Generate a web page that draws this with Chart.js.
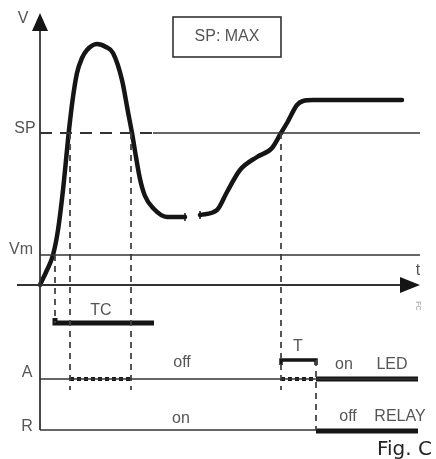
<!DOCTYPE html>
<html><head><meta charset="utf-8">
<script src="https://cdn.jsdelivr.net/npm/chart.js@4"></script>
<style>html,body{margin:0;padding:0;background:#fff}canvas{display:block}</style>
</head><body>
<canvas id="c" width="436" height="459"></canvas>
<script>
// Process value V over time t (break in the curve marked by null)
const curveT = [0, 7, 13, 18, 23, 27, 29, 33, 37, 42, 47, 57, 66, 73, 82, 88, 92, 96, 100, 105, 113, 127, 145, null, 160, 177, 187, 200, 217, 232, 241, 247, 257, 263, 273, 362];
const curveV = [0, 15, 30, 55, 95, 135, 155, 188, 212, 227, 235, 241, 238, 232, 205, 173, 152, 128, 106, 89, 77, 68, 68, null, 70, 75, 93, 115, 128, 137, 152, 162, 180, 184, 185, 185];
// Levels
const SP = 152, VM = 30;
const LEVEL_A = -94, LEVEL_R = -145, TC_LEVEL = -38, T_LEVEL = -75;
const T_AXIS_END = 380;
// Event times
const tVm = 15, tSP1 = 30, tSP2 = 91, tSP3 = 241, tRelay = 276, tTCend = 114, tEnd = 378;
// Texts
const axisLabels = ['V', 'SP', 'Vm', 't', 'A', 'R'];
const stateLabels = ['TC', 'off', 'on', 'T', 'on', 'LED', 'off', 'RELAY'];
const boxLabel = 'SP: MAX';
const figLabel = 'Fig. C';
const tinyLabel = 'FC';

const DARK = '#333', INK = '#151515', TXT = '#555';
function seg(pts, o) {
  return Object.assign({data: pts, showLine: true, pointRadius: 0, borderColor: DARK, borderWidth: 1.5, fill: false, tension: 0}, o || {});
}
const P = (x, y) => ({x, y});
const dashV = [6, 5];
const datasets = [
  seg([P(0, LEVEL_R), P(0, 258)], {borderWidth: 1.8}),
  seg([P(-23, 0), P(365, 0)], {borderWidth: 2}),
  seg([P(0, SP), P(113, SP)], {borderDash: [12, 8], borderWidth: 2}),
  seg([P(113, SP), P(T_AXIS_END, SP)], {borderWidth: 1.6}),
  seg([P(0, VM), P(T_AXIS_END, VM)], {borderWidth: 1.6}),
  seg([P(0, LEVEL_A), P(tEnd, LEVEL_A)], {borderWidth: 1.6}),
  seg([P(0, LEVEL_R), P(tRelay, LEVEL_R)], {borderWidth: 1.6}),
  seg([P(tVm, VM), P(tVm, TC_LEVEL)], {borderDash: dashV, borderWidth: 1.8, borderColor: '#444'}),
  seg([P(tSP1, SP), P(tSP1, -105)], {borderDash: dashV, borderWidth: 1.8, borderColor: '#444'}),
  seg([P(tSP2, SP), P(tSP2, -105)], {borderDash: dashV, borderWidth: 1.8, borderColor: '#444'}),
  seg([P(tSP3, SP), P(tSP3, -105)], {borderDash: dashV, borderWidth: 1.8, borderColor: '#444'}),
  seg([P(tRelay, T_LEVEL), P(tRelay, LEVEL_R)], {borderDash: dashV, borderWidth: 1.8, borderColor: '#444'}),
  seg([P(tVm, TC_LEVEL + 5), P(tVm, TC_LEVEL), P(tTCend, TC_LEVEL)], {borderWidth: 5, borderColor: INK}),
  seg([P(tSP3, T_LEVEL - 5), P(tSP3, T_LEVEL), P(tRelay, T_LEVEL), P(tRelay, T_LEVEL - 5)], {borderWidth: 3.5, borderColor: INK}),
  seg([P(tSP1, LEVEL_A), P(tSP2, LEVEL_A)], {borderDash: [4, 3], borderWidth: 4, borderColor: INK}),
  seg([P(tSP3, LEVEL_A), P(tRelay, LEVEL_A)], {borderDash: [4, 3], borderWidth: 4, borderColor: INK}),
  seg([P(tRelay, LEVEL_A), P(tEnd, LEVEL_A)], {borderWidth: 5, borderColor: INK}),
  seg([P(tRelay, LEVEL_R - 1), P(tEnd, LEVEL_R - 1)], {borderWidth: 5, borderColor: INK}),
  seg([P(145, 64), P(145, 72)], {borderWidth: 1.5, borderColor: INK}),
  seg([P(160, 66), P(160, 74)], {borderWidth: 1.5, borderColor: INK}),
  seg(curveT.map((t, i) => ({x: t, y: curveV[i]})), {borderWidth: 4.5, borderColor: INK, cubicInterpolationMode: 'monotone', spanGaps: false, borderCapStyle: 'round', borderJoinStyle: 'round'})
];

const overlay = {
  id: 'overlay',
  afterDatasetsDraw(chart) {
    const {ctx, scales: {x, y}} = chart;
    const X = v => x.getPixelForValue(v), Y = v => y.getPixelForValue(v);
    ctx.save();
    // arrowheads
    ctx.fillStyle = INK;
    ctx.beginPath();
    ctx.moveTo(X(0), Y(272)); ctx.lineTo(X(-8), Y(254)); ctx.lineTo(X(8), Y(254)); ctx.closePath(); ctx.fill();
    ctx.beginPath();
    ctx.moveTo(X(T_AXIS_END), Y(0)); ctx.lineTo(X(T_AXIS_END - 20), Y(8)); ctx.lineTo(X(T_AXIS_END - 20), Y(-8)); ctx.closePath(); ctx.fill();
    // box
    ctx.strokeStyle = DARK; ctx.lineWidth = 1.6;
    ctx.strokeRect(X(133), Y(268), X(241) - X(133), Y(228) - Y(268));
    // texts
    ctx.fillStyle = TXT;
    ctx.textAlign = 'center'; ctx.textBaseline = 'middle';
    ctx.font = '16px "Liberation Sans", Arial, sans-serif';
    const axPos = [[-17, 266], [-15, 156], [-19, 35], [378, 14], [-13, -88], [-13, -142]];
    axisLabels.forEach((s, i) => ctx.fillText(s, X(axPos[i][0]), Y(axPos[i][1])));
    const stPos = [[61, -26], [142, -78], [141, -134], [258, -62], [304, -80], [352, -80], [308, -132], [360, -132]];
    stateLabels.forEach((s, i) => ctx.fillText(s, X(stPos[i][0]), Y(stPos[i][1])));
    ctx.fillText(boxLabel, X(187), Y(248));
    ctx.fillStyle = '#222';
    ctx.textAlign = 'left'; ctx.textBaseline = 'alphabetic';
    ctx.font = '20px "DejaVu Sans", sans-serif';
    ctx.fillText(figLabel, X(337), Y(-170));
    ctx.fillStyle = '#999';
    ctx.font = '7px "Liberation Sans", sans-serif';
    ctx.translate(X(378), Y(-21)); ctx.rotate(Math.PI / 2);
    ctx.textAlign = 'center'; ctx.textBaseline = 'middle';
    ctx.fillText(tinyLabel, 0, 0);
    ctx.restore();
  }
};

new Chart(document.getElementById('c'), {
  type: 'scatter',
  data: {datasets},
  options: {
    responsive: false, animation: false, devicePixelRatio: 1,
    layout: {padding: 0},
    plugins: {legend: {display: false}, tooltip: {enabled: false}},
    scales: {
      x: {type: 'linear', min: -40, max: 396, display: false},
      y: {type: 'linear', min: -174, max: 285, display: false}
    }
  },
  plugins: [overlay]
});
</script>
</body></html>
